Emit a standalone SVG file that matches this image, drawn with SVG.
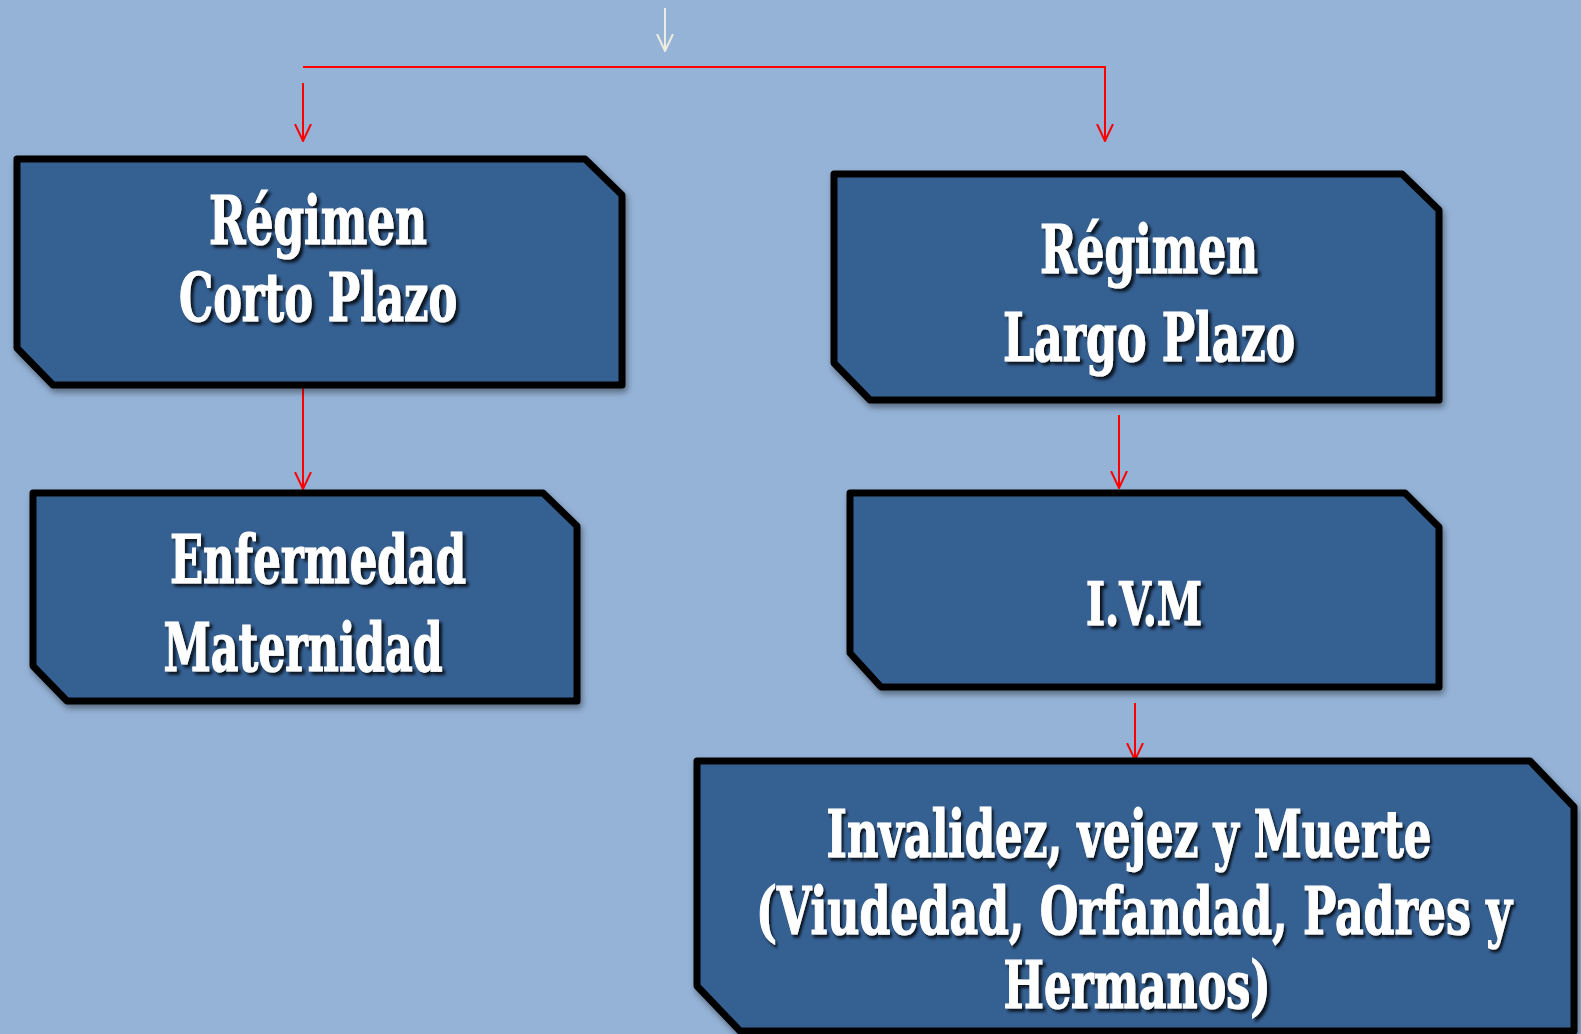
<svg xmlns="http://www.w3.org/2000/svg" width="1581" height="1034" viewBox="0 0 1581 1034">
<defs>
<style>
.box{fill:#366092;stroke:#000;stroke-width:7;stroke-linejoin:round;filter:url(#bsh)}
.t{font-family:"DejaVu Serif Condensed","DejaVu Serif","Liberation Serif",serif;font-weight:bold;fill:#fff;stroke:#fff;stroke-width:1.2;text-anchor:middle;filter:url(#tsh)}
.red{stroke:#ff0000;stroke-width:2;fill:none}
</style>
<filter id="bsh" filterUnits="userSpaceOnUse" x="0" y="0" width="1581" height="1034">
<feDropShadow dx="2" dy="4" stdDeviation="3" flood-color="#000" flood-opacity="0.4"/>
</filter>
<filter id="tsh" x="-20%" y="-50%" width="140%" height="200%">
<feDropShadow dx="3" dy="3" stdDeviation="1.5" flood-color="#000" flood-opacity="0.8"/>
</filter>
<marker id="ar" viewBox="0 0 18 18" refX="17" refY="9" markerWidth="18" markerHeight="18" markerUnits="userSpaceOnUse" orient="auto">
<path d="M0,1 L17,9 L0,17" fill="none" stroke="#ff0000" stroke-width="2"/>
</marker>
<marker id="aw" viewBox="0 0 18 18" refX="17" refY="9" markerWidth="18" markerHeight="18" markerUnits="userSpaceOnUse" orient="auto">
<path d="M0,1 L17,9 L0,17" fill="none" stroke="#eeece1" stroke-width="2"/>
</marker>
</defs>
<rect width="1581" height="1034" fill="#95b3d7"/>
<g id="connectors">
<line x1="665" y1="8" x2="665" y2="51" stroke="#eeece1" stroke-width="2" marker-end="url(#aw)"/>
<line class="red" x1="303" y1="67" x2="1106" y2="67"/>
<line class="red" x1="303" y1="83" x2="303" y2="141" marker-end="url(#ar)"/>
<line class="red" x1="1105" y1="67" x2="1105" y2="141" marker-end="url(#ar)"/>
<line class="red" x1="303" y1="386" x2="303" y2="489" marker-end="url(#ar)"/>
<line class="red" x1="1119" y1="415" x2="1119" y2="488" marker-end="url(#ar)"/>
<line class="red" x1="1135" y1="703" x2="1135" y2="760" marker-end="url(#ar)"/>
</g>
<g id="corto">
<polygon class="box" points="17,159 585,159 622,195 622,385 53,385 17,348"/>
<text class="t" font-size="68" x="318" y="244" textLength="218" lengthAdjust="spacingAndGlyphs">Régimen</text>
<text class="t" font-size="68" x="318" y="321" textLength="278" lengthAdjust="spacingAndGlyphs">Corto Plazo</text>
</g>
<g id="largo">
<polygon class="box" points="834,174 1402,174 1439,210 1439,400 870,400 834,363"/>
<text class="t" font-size="68" x="1149" y="273" textLength="218" lengthAdjust="spacingAndGlyphs">Régimen</text>
<text class="t" font-size="68" x="1149" y="361" textLength="292" lengthAdjust="spacingAndGlyphs">Largo Plazo</text>
</g>
<g id="enfermedad">
<polygon class="box" points="33,493 543,493 577,526 577,701 67,701 33,666"/>
<text class="t" font-size="68" x="318" y="583" textLength="296" lengthAdjust="spacingAndGlyphs">Enfermedad</text>
<text class="t" font-size="68" x="303" y="671" textLength="279" lengthAdjust="spacingAndGlyphs">Maternidad</text>
</g>
<g id="ivm">
<polygon class="box" points="850,493 1405,493 1439,527 1439,687 881,687 850,653"/>
<text class="t" font-size="60" x="1144" y="625" textLength="116" lengthAdjust="spacingAndGlyphs">I.V.M</text>
</g>
<g id="invalidez">
<polygon class="box" points="697,761 1530,761 1574,807 1574,1031 740,1031 697,986"/>
<text class="t" font-size="66" transform="translate(1129,857) scale(0.7,1)" x="0" y="0" textLength="864" lengthAdjust="spacingAndGlyphs">Invalidez, vejez y Muerte</text>
<text class="t" font-size="66" transform="translate(1134,934) scale(0.7,1)" x="0" y="0" textLength="1080" lengthAdjust="spacingAndGlyphs">(Viudedad, Orfandad, Padres y</text>
<text class="t" font-size="66" x="1137" y="1008" textLength="267" lengthAdjust="spacingAndGlyphs">Hermanos)</text>
</g>
</svg>
